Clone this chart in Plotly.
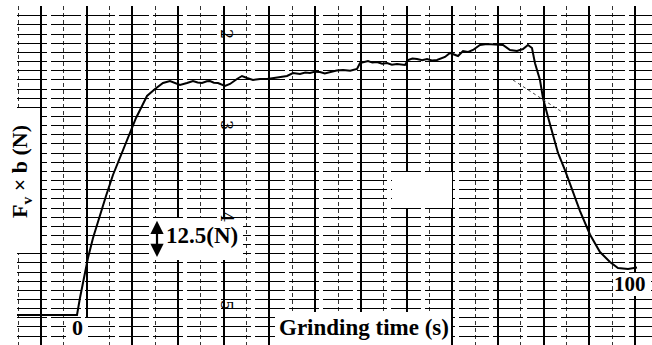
import plotly.graph_objects as go

# Recorder trace: grinding time (s) vs Fv x b (N)
time_s = [-11.09, 0.0, 0.55, 1.29, 2.03, 2.96, 4.07, 5.36, 6.65, 7.95, 9.24, 10.17, 10.91,
          11.65, 12.94, 14.42, 15.90, 17.19, 18.11, 19.04, 20.33, 21.44, 22.3, 23.11, 24.0,
          24.58, 25.3, 26.06, 27.36, 28.28, 29.57, 30.50, 31.42, 32.53, 33.83, 35.12, 36.41,
          37.52, 38.82, 39.93, 41.22, 42.2, 43.07, 44.0, 44.92, 45.8, 46.77, 48.0, 49.17,
          50.5, 51.76, 52.31, 53.79, 54.6, 55.45, 56.4, 57.30, 58.2, 59.15, 60.63, 61.18,
          62.0, 62.85, 63.8, 64.70, 65.6, 66.54, 68.02, 68.95, 70.43, 71.35, 72.3, 73.20,
          74.49, 75.79, 77.63, 78.74, 80.04, 81.33, 82.44, 83.36, 84.10, 84.66, 85.58,
          86.14, 87.06, 87.99, 88.91, 90.20, 91.50, 92.98, 94.82, 96.67, 98.52, 100.0,
          101.85, 103.51]
force_N = [0.0, 0.0, 5.81, 12.64, 19.47, 26.30, 33.13, 40.64, 47.81, 53.96, 59.76, 64.20, 67.28,
           70.01, 74.79, 77.18, 79.23, 79.91, 79.23, 78.55, 79.23, 79.91, 79.4, 79.23, 79.8,
           79.91, 79.3, 79.23, 78.20, 78.89, 80.59, 81.62, 80.94, 80.25, 80.59, 80.59, 80.94,
           81.28, 81.62, 82.64, 82.30, 82.8, 82.64, 83.1, 82.98, 82.5, 82.98, 83.5, 83.67,
           83.4, 84.01, 86.06, 86.74, 86.2, 86.40, 85.8, 86.06, 85.5, 85.72, 85.38, 87.08,
           87.6, 87.42, 87.0, 87.42, 86.9, 87.08, 88.11, 89.47, 88.45, 90.16, 89.8, 90.50,
           92.21, 92.55, 92.21, 92.21, 90.50, 90.16, 90.84, 92.21, 91.18, 86.0, 80.25,
           74.0, 67.62, 61.5, 55.32, 49.5, 42.7, 35.5, 27.5, 21.5, 18.1, 16.05,
           15.71, 16.2]

# thin tangent construction line near the drop
tangent_t = [80.59, 89.65]
tangent_F = [80.25, 69.32]

# rotated chart-paper scale digits
paper_digits = ["2", "3", "4", "5"]
paper_digit_t = [27.54, 27.54, 27.54, 27.54]
paper_digit_F = [95.96, 64.89, 33.47, 3.42]

x_label = "Grinding time (s)"
y_label = "F<sub>v</sub> × b (N)"
scale_label = "12.5(N)"
start_label = "0"
end_label = "100"

FONT = "Liberation Serif, Times New Roman, serif"

fig = go.Figure()

# white erased patches on the recorder paper
W = 652; H = 345; L = 17; T = 6
pw = W - L; ph = H - T
def px_rect(x0, y0, x1, y1):
    fig.add_shape(type="rect", xref="paper", yref="paper",
                  x0=(x0 - L) / pw, x1=(x1 - L) / pw,
                  y0=(H - y1) / ph, y1=(H - y0) / ph,
                  fillcolor="white", line=dict(width=0), layer="above")
px_rect(0, 110, 40, 253)
px_rect(275, 312, 451, 346)
px_rect(150, 218, 243, 260)
px_rect(392, 172, 452, 208)
px_rect(613, 273, 651, 296)
px_rect(66, 318, 88, 346)

fig.add_trace(go.Scatter(x=time_s, y=force_N, mode="lines",
                         line=dict(color="black", width=2), hoverinfo="skip"))
fig.add_trace(go.Scatter(x=tangent_t, y=tangent_F, mode="lines",
                         line=dict(color="#444", width=1, dash="dot"), hoverinfo="skip"))

ann = []
for d, t, f in zip(paper_digits, paper_digit_t, paper_digit_F):
    ann.append(dict(x=t, y=f, xref="x", yref="y", text=d, showarrow=False, textangle=90,
                    xanchor="center", yanchor="middle",
                    font=dict(family="DejaVu Serif", size=16, color="black")))
ann.append(dict(x=0, y=-4.1, xref="x", yref="y", text="<b>" + start_label + "</b>",
                xanchor="center", yanchor="middle",
                showarrow=False, font=dict(family=FONT, size=22, color="black")))
ann.append(dict(x=98.9, y=10.6, xref="x", yref="y", text="<b>" + end_label + "</b>",
                xanchor="left", yanchor="middle",
                showarrow=False, font=dict(family=FONT, size=21, color="black")))
ann.append(dict(x=53.05, y=-4.4, xref="x", yref="y", text="<b>" + x_label + "</b>",
                xanchor="center", yanchor="middle",
                showarrow=False, font=dict(family=FONT, size=23, color="black")))
ann.append(dict(x=23.1, y=27.0, xref="x", yref="y", text="<b>" + scale_label + "</b>",
                xanchor="center", yanchor="middle",
                showarrow=False, font=dict(family=FONT, size=23, color="black")))
ann.append(dict(x=14.79, y=32.2, ax=14.79, ay=19.3, xref="x", yref="y", axref="x", ayref="y",
                text="", showarrow=True, arrowhead=2, arrowside="end+start",
                arrowsize=1.2, arrowwidth=2.2, arrowcolor="black"))
ann.append(dict(x=(21 - L) / pw, y=(H - 172) / ph, xref="paper", yref="paper",
                text="<b>" + y_label + "</b>", textangle=-90, showarrow=False,
                xanchor="center", yanchor="middle",
                font=dict(family=FONT, size=22, color="black")))

fig.update_layout(
    width=W, height=H, margin=dict(l=L, r=0, t=T, b=0),
    paper_bgcolor="white", plot_bgcolor="white", showlegend=False,
    annotations=ann,
    xaxis=dict(range=[-11.09, 106.285], tick0=-6.654, dtick=8.447,
               showgrid=True, gridcolor="black", gridwidth=2,
               minor=dict(tick0=-6.654, dtick=4.2237, showgrid=True, gridcolor="#333",
                          gridwidth=1, griddash="4px,3px"),
               showticklabels=False, ticks="", zeroline=False, showline=False, fixedrange=True),
    yaxis=dict(range=[-10.245, 105.52], tick0=2.16, dtick=3.125,
               showgrid=True, gridcolor="black", gridwidth=1.2, griddash="30px,4px",
               showticklabels=False, ticks="", zeroline=False, showline=False, fixedrange=True),
)
fig.write_html("out.html")
